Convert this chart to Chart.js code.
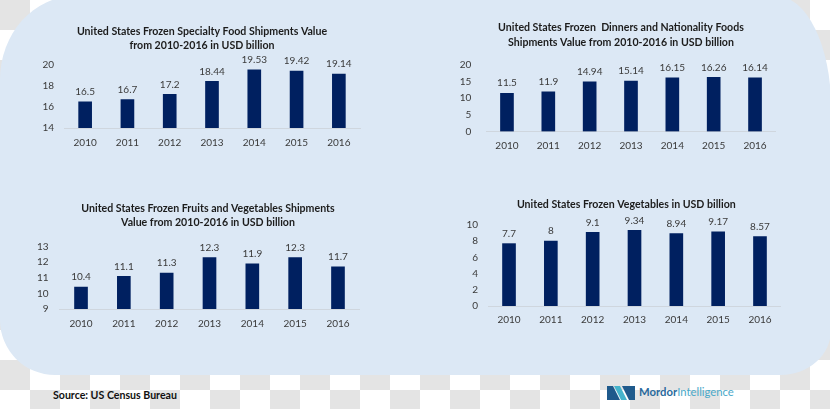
<!DOCTYPE html>
<html>
<head>
<meta charset="utf-8">
<script src="https://cdn.jsdelivr.net/npm/chart.js@4/dist/chart.umd.min.js"></script>
<style>
  html, body { margin: 0; padding: 0; }
  body {
    width: 830px; height: 409px; position: relative; overflow: hidden;
    background-color: #ffffff;
    background-image:
      linear-gradient(45deg, #e4e4e4 25%, transparent 25%, transparent 75%, #e4e4e4 75%),
      linear-gradient(45deg, #e4e4e4 25%, transparent 25%, transparent 75%, #e4e4e4 75%);
    background-size: 60px 60px;
    background-position: 30px 0, 0 30px;
    font-family: Lato, "Open Sans", sans-serif;
  }
  #panel {
    position: absolute; left: 0; top: -4px; width: 831px; height: 379px;
    background: #dce8f5;
    border-radius: 75px 55px 50px 55px / 84px 110px 45px 55px;
  }
  canvas { position: absolute; }
  #source {
    position: absolute; left: 53px; top: 389px;
    font: bold 10.6px Lato, sans-serif; color: #111;
  }
  #logo { position: absolute; left: 607px; top: 386px; height: 14px; }
  #logo svg { position: absolute; left: 0; top: 0; }
  #logo span {
    position: absolute; left: 32px; top: -1.5px; white-space: nowrap;
    font: 11.3px Lato, sans-serif; color: #4aa9c9;
  }
  #logo b { color: #2a6a9c; }
</style>
</head>
<body>
<div id="panel"></div>
<canvas id="specialty" width="350" height="135" style="left:20px;top:20px"></canvas>
<canvas id="dinners" width="380" height="150" style="left:420px;top:10px"></canvas>
<canvas id="fruitsVeg" width="380" height="150" style="left:10px;top:190px"></canvas>
<canvas id="vegetables" width="380" height="150" style="left:420px;top:190px"></canvas>
<div id="source">Source: US Census Bureau</div>
<div id="logo">
  <svg width="28" height="14" viewBox="0 0 28 14">
    <polygon points="0,0 6,0 13,14 0,14" fill="#1f5a8c"/>
    <polygon points="7,0 13,0 20,14 14,14" fill="#45b4cc"/>
    <polygon points="15,0 28,0 28,14 22,14" fill="#1f5a8c"/>
  </svg>
  <span><b>Mordor</b>Intelligence</span>
</div>
<script>
const years = ['2010', '2011', '2012', '2013', '2014', '2015', '2016'];

const specialtyValues = [16.5, 16.7, 17.2, 18.44, 19.53, 19.42, 19.14];
const dinnersValues = [11.5, 11.9, 14.94, 15.14, 16.15, 16.26, 16.14];
const fruitsVegValues = [10.4, 11.1, 11.3, 12.3, 11.9, 12.3, 11.7];
const vegetablesValues = [7.7, 8, 9.1, 9.34, 8.94, 9.17, 8.57];

const specialtyTicks = [14, 16, 18, 20];
const dinnersTicks = [0, 5, 10, 15, 20];
const fruitsVegTicks = [9, 10, 11, 12, 13];
const vegetablesTicks = [0, 2, 4, 6, 8, 10];

const specialtyTitle = ['United States Frozen Specialty Food Shipments Value', 'from 2010-2016 in USD billion'];
const dinnersTitle = ['United States Frozen  Dinners and Nationality Foods', 'Shipments Value from 2010-2016 in USD billion'];
const fruitsVegTitle = ['United States Frozen Fruits and Vegetables Shipments', 'Value from 2010-2016 in USD billion'];
const vegetablesTitle = ['United States Frozen Vegetables in USD billion'];

const barColor = '#002060';
const textColor = '#3a3a3a';

// value labels above each bar
const valueLabels = {
    id: 'valueLabels',
    afterDatasetsDraw(chart) {
        const ctx = chart.ctx;
        const meta = chart.getDatasetMeta(0);
        const data = chart.data.datasets[0].data;
        ctx.save();
        ctx.font = '10px Lato';
        ctx.fillStyle = textColor;
        ctx.textAlign = 'center';
        ctx.textBaseline = 'middle';
        meta.data.forEach((bar, i) => {
            ctx.fillText(String(data[i]), bar.x, bar.y - 10);
        });
        ctx.restore();
    }
};

// box: canvas-relative layout numbers; spacer is an empty right axis that
// shifts the plot so the full-width title lands where the original has it
function buildChart(id, values, ticks, title, box) {
    const step = ticks[1] - ticks[0];
    return new Chart(document.getElementById(id), {
        type: 'bar',
        data: {
            labels: years,
            datasets: [{
                data: values,
                backgroundColor: barColor,
                barThickness: 13
            }]
        },
        options: {
            responsive: false,
            animation: false,
            layout: {
                autoPadding: false,
                padding: { left: box.padLeft, right: box.padRight, top: 0, bottom: 0 }
            },
            plugins: {
                legend: { display: false },
                tooltip: { enabled: false },
                title: {
                    display: true,
                    text: title,
                    color: '#1c1c1c',
                    font: { family: 'Lato', size: 10.6, weight: 'bold', lineHeight: box.lineHeight + 'px' },
                    padding: { top: box.titleTop, bottom: box.titleBottom }
                }
            },
            scales: {
                x: {
                    grid: { display: false, drawTicks: false },
                    border: { display: true, color: '#cfd6de' },
                    ticks: {
                        color: textColor,
                        font: { family: 'Lato', size: 10 },
                        padding: box.xPad,
                        autoSkip: false,
                        maxRotation: 0
                    },
                    afterFit(scale) { scale.height = box.xHeight; }
                },
                y: {
                    min: ticks[0],
                    max: ticks[ticks.length - 1],
                    grid: { display: false, drawTicks: false },
                    border: { display: false },
                    ticks: {
                        stepSize: step,
                        color: textColor,
                        font: { family: 'Lato', size: 10 },
                        padding: box.yPad
                    },
                    afterFit(scale) { scale.width = box.yWidth; }
                },
                spacer: {
                    type: 'linear',
                    position: 'right',
                    grid: { display: false, drawTicks: false },
                    border: { display: false },
                    ticks: { display: false },
                    afterFit(scale) { scale.width = box.spacer; }
                }
            }
        },
        plugins: [valueLabels]
    });
}

buildChart('specialty', specialtyValues, specialtyTicks, specialtyTitle,
    { padLeft: 14, padRight: 0, yWidth: 30, spacer: 10, xHeight: 27, xPad: 8.4, yPad: 10, lineHeight: 14, titleTop: 5, titleBottom: 12 });
buildChart('dinners', dinnersValues, dinnersTicks, dinnersTitle,
    { padLeft: 36.3, padRight: 14.3, yWidth: 30, spacer: 10, xHeight: 28.5, xPad: 7.9, yPad: 15, lineHeight: 14.5, titleTop: 10.4, titleBottom: 15.6 });
buildChart('fruitsVeg', fruitsVegValues, fruitsVegTicks, fruitsVegTitle,
    { padLeft: 24.6, padRight: 8.6, yWidth: 25, spacer: 22, xHeight: 31, xPad: 8.7, yPad: 11, lineHeight: 14, titleTop: 11.3, titleBottom: 17.4 });
buildChart('vegetables', vegetablesValues, vegetablesTicks, vegetablesTitle,
    { padLeft: 43.1, padRight: 10.5, yWidth: 25, spacer: 8.6, xHeight: 34, xPad: 7.7, yPad: 10, lineHeight: 14, titleTop: 8, titleBottom: 13 });
</script>
</body>
</html>
